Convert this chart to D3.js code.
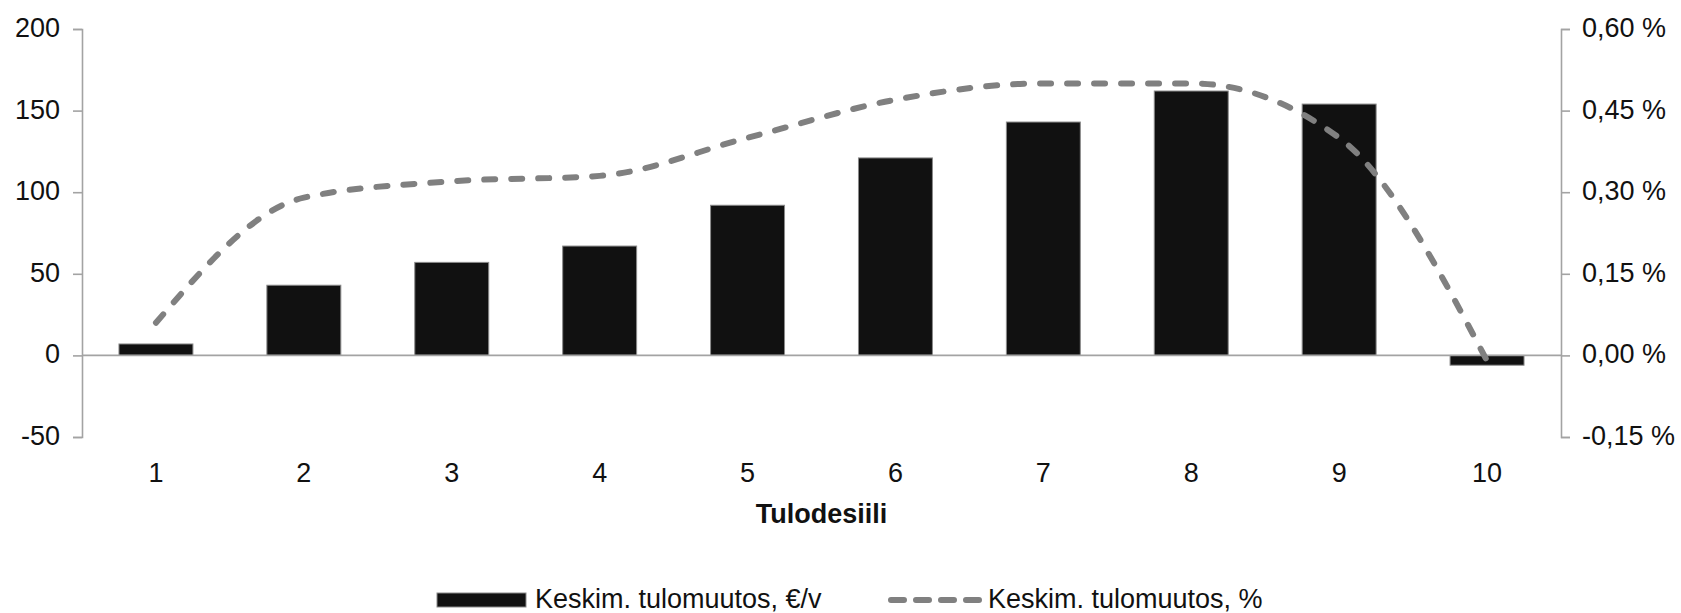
<!DOCTYPE html>
<html>
<head>
<meta charset="utf-8">
<script src="https://cdn.jsdelivr.net/npm/d3@7"></script>
<style>
  html, body { margin: 0; padding: 0; background: #fff; }
  svg { display: block; font-family: "Liberation Sans", Arial, sans-serif; }
</style>
</head>
<body>
<svg id="chart" width="1681" height="613"></svg>
<script>
const categories = ["1", "2", "3", "4", "5", "6", "7", "8", "9", "10"];
const euroChange = [7, 43, 57, 67, 92, 121, 143, 162, 154, -6];
const pctChange = [0.06, 0.29, 0.32, 0.33, 0.40, 0.47, 0.50, 0.50, 0.40, -0.01];
const leftTicks = [-50, 0, 50, 100, 150, 200];
const rightTicks = [-0.15, 0, 0.15, 0.30, 0.45, 0.60];
const xTitle = "Tulodesiili";
const legendLabels = ["Keskim. tulomuutos, €/v", "Keskim. tulomuutos, %"];

const svg = d3.select("#chart");
const L = 82, R = 1561, T = 29, B = 437;
const axisColor = "#a3a3a3";
const textColor = "#111";
const fontSize = 27;

const x = d3.scaleBand().domain(categories).range([L, R]).paddingInner(0.5).paddingOuter(0.25);
const y0 = d3.scaleLinear().domain([-50, 200]).range([B, T]);
const y1 = d3.scaleLinear().domain([-0.15, 0.60]).range([B, T]);
const cx = c => x(c) + x.bandwidth() / 2;

// bars
svg.append("g").selectAll("rect").data(categories).join("rect")
  .attr("x", c => x(c))
  .attr("width", x.bandwidth())
  .attr("y", (c, i) => Math.min(y0(euroChange[i]), y0(0)))
  .attr("height", (c, i) => Math.abs(y0(euroChange[i]) - y0(0)))
  .attr("fill", "#111")
  .attr("stroke", "#8a8a8a")
  .attr("stroke-width", 1);

// zero line
svg.append("line")
  .attr("x1", L).attr("x2", R)
  .attr("y1", y0(0)).attr("y2", y0(0))
  .attr("stroke", axisColor).attr("stroke-width", 1.6);

// left axis
const gl = svg.append("g").attr("transform", `translate(${L},0)`)
  .call(d3.axisLeft(y0).tickValues(leftTicks).tickSize(9).tickPadding(13).tickFormat(d => String(d)));
// right axis
const gr = svg.append("g").attr("transform", `translate(${R},0)`)
  .call(d3.axisRight(y1).tickValues(rightTicks).tickSize(9).tickPadding(12)
    .tickFormat(d => (d < 0 ? "-" : "") + Math.abs(d).toFixed(2).replace(".", ",") + " %"));

[gl, gr].forEach(g => {
  g.select(".domain").attr("stroke", axisColor).attr("stroke-width", 1.6);
  g.selectAll(".tick line").attr("stroke", axisColor).attr("stroke-width", 1.6);
  g.selectAll(".tick text").attr("fill", textColor).attr("font-size", fontSize)
    .attr("font-family", "'Liberation Sans', Arial, sans-serif").attr("dy", "0.28em");
});

// line
const line = d3.line()
  .x((d, i) => cx(categories[i]))
  .y(d => y1(d))
  .curve(d3.curveMonotoneX);
svg.append("path")
  .datum(pctChange)
  .attr("d", line)
  .attr("fill", "none")
  .attr("stroke", "#808080")
  .attr("stroke-width", 6)
  .attr("stroke-linecap", "round")
  .attr("stroke-dasharray", "11,16");

// x labels
svg.append("g").selectAll("text").data(categories).join("text")
  .attr("x", c => cx(c))
  .attr("y", 482)
  .attr("text-anchor", "middle")
  .attr("font-size", fontSize)
  .attr("fill", textColor)
  .text(c => c);

svg.append("text")
  .attr("x", (L + R) / 2)
  .attr("y", 523)
  .attr("text-anchor", "middle")
  .attr("font-size", fontSize)
  .attr("font-weight", "bold")
  .attr("fill", textColor)
  .text(xTitle);

// legend
const lg = svg.append("g");
lg.append("rect")
  .attr("x", 437).attr("y", 593).attr("width", 89).attr("height", 14)
  .attr("fill", "#111").attr("stroke", "#8a8a8a").attr("stroke-width", 1);
lg.append("text")
  .attr("x", 535).attr("y", 608)
  .attr("font-size", fontSize).attr("fill", textColor)
  .text(legendLabels[0]);
lg.append("line")
  .attr("x1", 891).attr("x2", 982).attr("y1", 600).attr("y2", 600)
  .attr("stroke", "#808080").attr("stroke-width", 6)
  .attr("stroke-linecap", "round").attr("stroke-dasharray", "13,12");
lg.append("text")
  .attr("x", 988).attr("y", 608)
  .attr("font-size", fontSize).attr("fill", textColor)
  .text(legendLabels[1]);
</script>
</body>
</html>
